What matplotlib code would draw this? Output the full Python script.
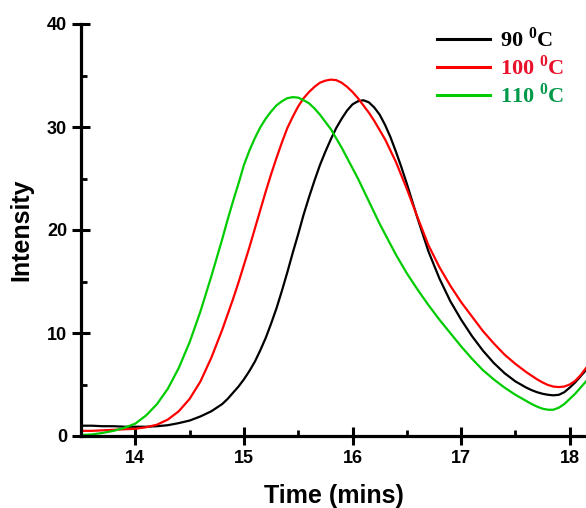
import matplotlib
matplotlib.use("Agg")
import matplotlib.pyplot as plt
from matplotlib.ticker import MultipleLocator

plt.rcParams['mathtext.fontset'] = 'custom'
plt.rcParams['mathtext.rm'] = 'Liberation Serif:bold'
plt.rcParams['mathtext.bf'] = 'Liberation Serif:bold'

time = [13.5, 13.6, 13.7, 13.8, 13.9, 14.0, 14.1, 14.2, 14.3, 14.4, 14.5, 14.6, 14.7,
        14.8, 14.85, 14.9, 14.95, 15.0, 15.05, 15.1, 15.15, 15.2, 15.25, 15.3, 15.35,
        15.4, 15.45, 15.5, 15.55, 15.6, 15.65, 15.7, 15.75, 15.8, 15.85, 15.9, 15.95,
        16.0, 16.05, 16.1, 16.15, 16.2, 16.25, 16.3, 16.35, 16.4, 16.45, 16.5, 16.55, 16.6,
        16.7, 16.8, 16.9, 17.0, 17.1, 17.2, 17.3, 17.4, 17.5,
        17.6, 17.65, 17.7, 17.75, 17.8, 17.85, 17.9, 17.95, 18.0, 18.05, 18.1, 18.15]

i90 = [1.0, 1.0, 0.95, 0.95, 0.9, 0.9, 0.9, 0.95, 1.05, 1.25, 1.5, 1.9, 2.4,
       3.1, 3.6, 4.2, 4.8, 5.5, 6.3, 7.2, 8.3, 9.5, 10.9, 12.4, 14.1,
       15.9, 17.8, 19.6, 21.5, 23.2, 24.8, 26.3, 27.6, 28.8, 29.9, 30.8, 31.6,
       32.2, 32.5, 32.6, 32.4, 31.9, 31.2, 30.2, 29.0, 27.6, 26.1, 24.5, 22.8, 21.1,
       17.9, 15.3, 13.1, 11.3, 9.7, 8.3, 7.1, 6.1, 5.3,
       4.7, 4.45, 4.25, 4.1, 4.0, 3.95, 4.0, 4.25, 4.7, 5.2, 5.8, 6.4]

i100 = [0.5, 0.5, 0.55, 0.6, 0.65, 0.7, 0.85, 1.1, 1.6, 2.4, 3.6, 5.3, 7.6,
        10.3, 11.8, 13.3, 14.9, 16.6, 18.3, 20.1, 21.9, 23.7, 25.4, 27.0, 28.5,
        29.9, 31.0, 32.0, 32.8, 33.4, 33.9, 34.3, 34.5, 34.6, 34.55, 34.3, 33.9,
        33.4, 32.8, 32.1, 31.4, 30.6, 29.7, 28.8, 27.7, 26.6, 25.3, 24.0, 22.6, 21.2,
        18.5, 16.4, 14.6, 13.0, 11.6, 10.2, 9.0, 7.9, 7.0,
        6.2, 5.85, 5.5, 5.2, 4.95, 4.8, 4.75, 4.8, 5.0, 5.35, 5.9, 6.6]

i110 = [0.1, 0.15, 0.3, 0.5, 0.8, 1.2, 2.0, 3.1, 4.6, 6.6, 9.1, 12.1, 15.5,
        19.1, 21.0, 22.8, 24.5, 26.3, 27.7, 28.9, 29.95, 30.8, 31.5, 32.1, 32.5,
        32.8, 32.9, 32.85, 32.6, 32.3, 31.8, 31.2, 30.5, 29.8, 28.9, 28.0, 27.0,
        26.0, 25.0, 23.9, 22.8, 21.7, 20.6, 19.6, 18.6, 17.6, 16.7, 15.8, 15.0, 14.2,
        12.7, 11.3, 10.0, 8.7, 7.5, 6.4, 5.5, 4.7, 4.0,
        3.4, 3.1, 2.85, 2.65, 2.55, 2.55, 2.75, 3.1, 3.6, 4.1, 4.7, 5.3]

labels = [r'90 $^{0}$C', r'100 $^{0}$C', r'110 $^{0}$C']
line_colors = ['#000000', '#ff0000', '#00cc00']
text_colors = ['#000000', '#e8102a', '#00994a']

fig = plt.figure(figsize=(5.86, 5.08), dpi=100)
ax = fig.add_axes([81/586, 72/508, 1 - 81/586, (436-24)/508])

for y, c, lab in zip([i90, i100, i110], line_colors, labels):
    ax.plot(time, y, color=c, lw=1.6, label=lab, clip_on=True)

ax.set_xlim(13.5, 18.15)
ax.set_ylim(0, 40)
ax.xaxis.set_major_locator(MultipleLocator(1))
ax.xaxis.set_minor_locator(MultipleLocator(0.5))
ax.yaxis.set_major_locator(MultipleLocator(10))
ax.yaxis.set_minor_locator(MultipleLocator(5))

for s in ['top', 'right']:
    ax.spines[s].set_visible(False)
for s in ['left', 'bottom']:
    ax.spines[s].set_linewidth(2.3)

ax.tick_params(which='major', direction='inout', length=13, width=2.2, pad=3.5,
               labelsize=13)
ax.tick_params(which='minor', direction='in', length=4, width=2.0)
for lbl in ax.get_xticklabels() + ax.get_yticklabels():
    lbl.set_fontweight('bold')
    lbl.set_fontfamily('Liberation Sans')

ax.set_xlabel('Time (mins)', fontsize=18, fontweight='bold', family='Liberation Sans', labelpad=12)
ax.set_ylabel('Intensity', fontsize=18, fontweight='bold', family='Liberation Sans', labelpad=10)

leg = ax.legend(loc='upper left', bbox_to_anchor=(437/586, 1 - 27/508),
                bbox_transform=fig.transFigure, frameon=False,
                prop={'family': 'Liberation Serif', 'weight': 'bold', 'size': 16},
                handlelength=2.4, handletextpad=0.45, labelspacing=0.15,
                borderpad=0, borderaxespad=0)
for t, c in zip(leg.get_texts(), text_colors):
    t.set_color(c)
for h in leg.get_lines():
    h.set_linewidth(2.2)

fig.savefig('out.png', dpi=100)
